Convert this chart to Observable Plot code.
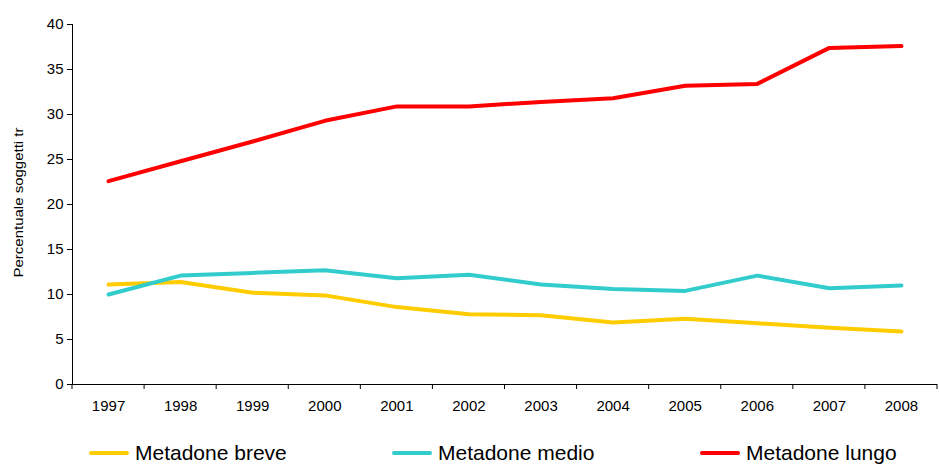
<!DOCTYPE html>
<html>
<head>
<meta charset="utf-8">
<script src="https://cdn.jsdelivr.net/npm/d3@7"></script>
<script src="https://cdn.jsdelivr.net/npm/@observablehq/plot@0.6"></script>
<style>
  html, body { margin: 0; padding: 0; background: #fff; }
  body { width: 939px; height: 464px; position: relative; overflow: hidden; font-family: "Liberation Sans", Arial, sans-serif; }
  #legend { position: absolute; left: 0; top: 441px; width: 939px; height: 24px; }
  .item { position: absolute; top: 0; height: 24px; display: flex; align-items: center; font-size: 21px; color: #000; }
  .sw { width: 40px; height: 4px; border-radius: 2px; margin-right: 6px; }
</style>
</head>
<body>
<div id="chart"></div>
<div id="legend"></div>
<script>
const years = [1997, 1998, 1999, 2000, 2001, 2002, 2003, 2004, 2005, 2006, 2007, 2008];
const breve = [11.1, 11.4, 10.2, 9.9, 8.6, 7.8, 7.7, 6.9, 7.3, 6.8, 6.3, 5.9];
const medio = [10.0, 12.1, 12.4, 12.7, 11.8, 12.2, 11.1, 10.6, 10.4, 12.1, 10.7, 11.0];
const lungo = [22.6, 24.8, 27.0, 29.3, 30.9, 30.9, 31.4, 31.8, 33.2, 33.4, 37.4, 37.6];
const seriesNames = ["Metadone breve", "Metadone medio", "Metadone lungo"];
const seriesColors = ["#FFCC00", "#33CCCC", "#FF0000"];
const yTicks = [0, 5, 10, 15, 20, 25, 30, 35, 40];
const yTitle = "Percentuale soggetti tr";

const seriesValues = [breve, medio, lungo];
const data = [];
seriesNames.forEach((name, s) => {
  years.forEach((yr, i) => data.push({series: name, year: yr, value: seriesValues[s][i]}));
});
const boundaries = d3.range(years[0] - 0.5, years[years.length - 1] + 1, 1);

const chart = Plot.plot({
  width: 939,
  height: 430,
  marginLeft: 72,
  marginRight: 2,
  marginTop: 24,
  marginBottom: 46,
  style: {fontFamily: "Liberation Sans, Arial, sans-serif", background: "#fff", color: "#000"},
  x: {domain: [years[0] - 0.5, years[years.length - 1] + 0.5]},
  y: {domain: [0, 40]},
  color: {domain: seriesNames, range: seriesColors},
  marks: [
    Plot.axisY({ticks: yTicks, tickSize: 5, tickPadding: 4, fontSize: 15, label: null, tickFormat: d => String(d)}),
    Plot.axisX({ticks: years, tickSize: 0, tickPadding: 15.5, fontSize: 15, label: null, tickFormat: d => String(d)}),
    Plot.ruleY([0], {stroke: "#000", strokeWidth: 1}),
    Plot.ruleX([years[0] - 0.5], {stroke: "#000", strokeWidth: 1}),
    Plot.line(data, {x: "year", y: "value", z: "series", stroke: "series", strokeWidth: 4, strokeLinejoin: "round", strokeLinecap: "round"}),
    Plot.text([yTitle], {text: d => d, frameAnchor: "left", dx: -54, rotate: -90, fontSize: 13, fill: "#000", className: "ytitle"})
  ]
});
document.getElementById("chart").appendChild(chart);

const xs = chart.scale("x"), ys = chart.scale("y");
const svg = d3.select(chart);
// stretch the y title to the reference length, starting below the frame centre
svg.selectAll(".ytitle").attr("text-anchor", "start");
svg.selectAll(".ytitle text")
  .attr("text-anchor", "start")
  .attr("x", -73)
  .attr("textLength", 150)
  .attr("lengthAdjust", "spacingAndGlyphs");
// Category boundary tick marks pointing down from the x axis
const g = svg.append("g").attr("stroke", "#000");
boundaries.forEach(b => {
  const px = xs.apply(b), py = ys.apply(0);
  g.append("line").attr("x1", px).attr("x2", px).attr("y1", py).attr("y2", py + 5);
});

const legend = document.getElementById("legend");
const lefts = [89, 392, 700];
seriesNames.forEach((name, i) => {
  const item = document.createElement("div");
  item.className = "item";
  item.style.left = lefts[i] + "px";
  const sw = document.createElement("div");
  sw.className = "sw";
  sw.style.background = seriesColors[i];
  const t = document.createElement("span");
  t.textContent = name;
  item.appendChild(sw); item.appendChild(t);
  legend.appendChild(item);
});
</script>
</body>
</html>
